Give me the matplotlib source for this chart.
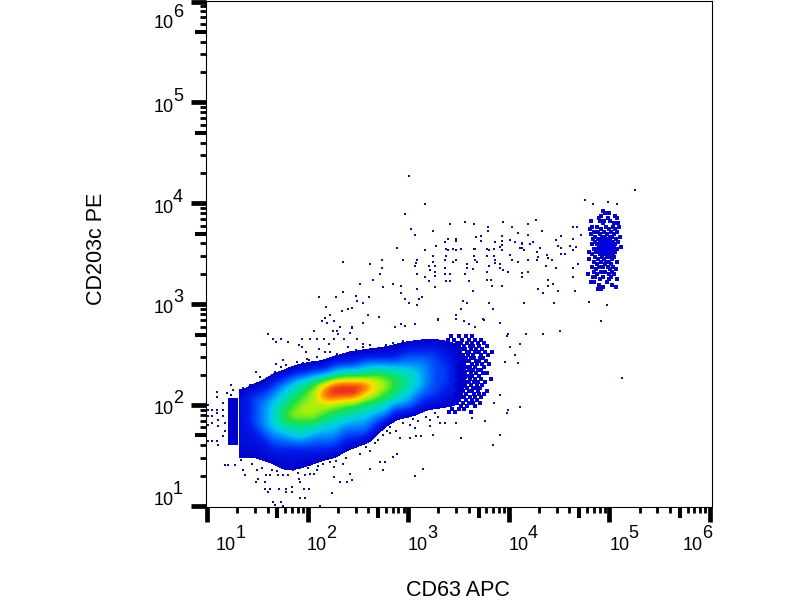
import numpy as np
import matplotlib
matplotlib.use('Agg')
import matplotlib.pyplot as plt
from matplotlib.colors import LinearSegmentedColormap, Normalize

plt.rcParams['font.family'] = ['Liberation Sans', 'DejaVu Sans']

X_LABEL = 'CD63 APC'
Y_LABEL = 'CD203c PE'
DECADES = [1, 2, 3, 4, 5, 6]

# all values below are log10 of the fluorescence
# density level per 0.1 decade cell of the main population (below 0.5 = no events)
DENSITY_X = [1.37 + 0.1 * i for i in range(24)]
DENSITY_Y = [1.3 + 0.1 * i for i in range(15)]
DENSITY = [
    [0, 0, 0, 0, 0, 0, 0, 0, 0, 0, 0, 0, 0, 0, 0, 0, 0, 0, 0, 0, 0, 0, 0, 0],  # 1.3
    [0, 0, .1, .4, .9, .9, .6, .4, 0, 0, 0, 0, 0, 0, 0, 0, 0, 0, 0, 0, 0, 0, 0, 0],  # 1.4
    [.7, .6, 1, 1, 1, 1, 1, 1, .9, .6, .1, 0, 0, 0, 0, 0, 0, 0, 0, 0, 0, 0, 0, 0],  # 1.5
    [1, 1, 1, 2, 2, 2, 2, 2, 2, 2, 1, .6, .1, 0, 0, 0, 0, 0, 0, 0, 0, 0, 0, 0],  # 1.6
    [1, 1, 2, 3, 3, 4, 4, 3, 3, 3, 2, 2, 2, .3, 0, 0, 0, 0, 0, 0, 0, 0, 0, 0],  # 1.7
    [1, 2, 3, 4, 5, 5, 5, 5, 4, 4, 3, 3, 3, 2, .3, 0, 0, 0, 0, 0, 0, 0, 0, 0],  # 1.8
    [1, 2, 3, 4, 6, 7, 7, 7, 6, 5, 5, 4, 4, 3, 3, .8, .6, .3, 0, 0, 0, 0, 0, 0],  # 1.9
    [1, 2, 3, 4, 5, 6, 7, 7, 7, 7, 6, 6, 5, 5, 4, 3, 3, 2, 1, .8, .65, .65, 0, 0],  # 2.0
    [1, 2, 2, 3, 4, 5, 6, 7, 10, 10, 10, 10, 8, 7, 6, 5, 4, 3, 2, 2, 1, 1, .2, 0],  # 2.1
    [0, .5, .9, 2, 3, 4, 5, 6, 8, 10, 10, 10, 10, 8, 7, 6, 5, 4, 3, 2, 2, 1, .5, 0],  # 2.2
    [0, 0, 0, .5, .8, 2, 2, 3, 3, 4, 5, 5, 5, 6, 6, 5, 5, 4, 3, 2, 2, 1, .6, 0],  # 2.3
    [0, 0, 0, 0, 0, .15, .5, .65, .8, 2, 2, 2, 3, 3, 3, 3, 3, 3, 3, 2, 2, 1, .5, 0],  # 2.4
    [0, 0, 0, 0, 0, 0, 0, 0, 0, .05, .5, .7, 1, 1, 1, 1, 2, 2, 2, 2, 1, 1, .3, 0],  # 2.5
    [0, 0, 0, 0, 0, 0, 0, 0, 0, 0, 0, 0, 0, .15, .35, .5, .6, .8, 1, 1, .8, .6, 0, 0],  # 2.6
    [0, 0, 0, 0, 0, 0, 0, 0, 0, 0, 0, 0, 0, 0, 0, 0, 0, 0, 0, 0, 0, 0, 0, 0],  # 2.7
]

# the separate channel left of the gap: x from, x to, y from, y to
LEFT_CHANNEL = (1.21, 1.31, 1.60, 2.07)

# mottled right end of the main population, one row per y value
RIGHT_LOBE_ROWS = [
    (2.68, [3.43, 3.50, 3.57, 3.63]),
    (2.65, [3.40, 3.46, 3.53, 3.60, 3.66, 3.72]),
    (2.62, [3.49, 3.52, 3.58, 3.63, 3.69, 3.75]),
    (2.59, [3.50, 3.55, 3.61, 3.64, 3.70, 3.78]),
    (2.56, [3.49, 3.53, 3.56, 3.62, 3.67, 3.73]),
    (2.53, [3.51, 3.58, 3.60, 3.66, 3.70, 3.76, 3.83]),
    (2.50, [3.50, 3.54, 3.59, 3.64, 3.72, 3.79]),
    (2.47, [3.49, 3.52, 3.57, 3.62, 3.65, 3.71, 3.74]),
    (2.44, [3.53, 3.56, 3.60, 3.67, 3.70, 3.77]),
    (2.41, [3.50, 3.55, 3.63, 3.68, 3.73, 3.80]),
    (2.38, [3.49, 3.52, 3.58, 3.61, 3.66, 3.75]),
    (2.35, [3.51, 3.54, 3.60, 3.64, 3.69, 3.72]),
    (2.32, [3.50, 3.56, 3.62, 3.67, 3.74, 3.78]),
    (2.29, [3.49, 3.53, 3.59, 3.63, 3.70]),
    (2.26, [3.52, 3.55, 3.61, 3.66, 3.72, 3.82]),
    (2.23, [3.50, 3.57, 3.60, 3.65, 3.69, 3.76]),
    (2.20, [3.49, 3.53, 3.56, 3.62, 3.68, 3.73]),
    (2.17, [3.51, 3.58, 3.64, 3.67, 3.71]),
    (2.14, [3.50, 3.54, 3.60, 3.63, 3.69, 3.78]),
    (2.11, [3.49, 3.52, 3.57, 3.65, 3.70, 3.75]),
    (2.08, [3.53, 3.55, 3.61, 3.66, 3.72]),
    (2.05, [3.50, 3.57, 3.63, 3.68]),
    (2.02, [3.49, 3.54, 3.60, 3.64, 3.71]),
    (1.99, [3.52, 3.58, 3.66]),
    (1.96, [3.44, 3.50, 3.55]),
    (1.93, [3.41, 3.47, 3.62]),
]

# single events between the main population and the upper right cluster
SPARSE_EVENTS = [
    (3.01, 4.27), (5.25, 4.13), (3.17, 3.99), (2.97, 3.89), (4.76, 4.03), (4.84, 3.99), (4.99, 4.01), (5.08, 3.99),
    (3.03, 3.75), (3.07, 3.69), (3.25, 3.73), (3.42, 3.79), (3.56, 3.81), (3.65, 3.79), (3.79, 3.77), (3.79, 3.73),
    (3.94, 3.81), (4.03, 3.77), (4.19, 3.79), (4.27, 3.83), (4.09, 3.71), (4.19, 3.69), (4.33, 3.73), (2.89, 3.56),
    (2.35, 3.42), (2.62, 3.40), (2.74, 3.44), (2.74, 3.36), (2.72, 3.30), (2.65, 3.24), (2.52, 3.20), (2.75, 3.17),
    (2.85, 3.20), (2.93, 3.18), (2.95, 3.44), (3.09, 3.44), (3.08, 3.41), (3.07, 3.38), (3.09, 3.30), (3.17, 3.54),
    (3.17, 3.27), (3.21, 3.23), (3.27, 3.17), (3.09, 3.15), (2.93, 3.11), (2.97, 3.05), (3.01, 3.01), (3.09, 2.99),
    (3.11, 3.05), (3.14, 3.07), (2.35, 3.12), (2.28, 3.07), (2.11, 3.07), (2.48, 3.08), (2.49, 3.03), (2.55, 3.01),
    (2.61, 3.07), (2.18, 2.97), (2.44, 2.96), (2.40, 2.95), (2.34, 2.93), (2.22, 2.89), (2.17, 2.86), (2.14, 2.83),
    (2.19, 2.81), (2.60, 2.89), (2.71, 2.87), (2.55, 2.81), (2.32, 2.77), (2.25, 2.73), (2.44, 2.77), (2.42, 2.71),
    (3.28, 3.58), (3.37, 3.62), (3.40, 3.65), (3.48, 3.65), (3.48, 3.63), (3.38, 3.55), (3.40, 3.54), (3.45, 3.55),
    (3.48, 3.54), (3.52, 3.55), (3.25, 3.48), (3.38, 3.48), (3.37, 3.44), (3.45, 3.42), (3.48, 3.44), (3.25, 3.42),
    (3.27, 3.38), (3.21, 3.38), (3.22, 3.34), (3.27, 3.32), (3.27, 3.28), (3.37, 3.36), (3.42, 3.30), (3.37, 3.30),
    (3.38, 3.23), (3.42, 3.23), (3.56, 3.30), (3.58, 3.36), (3.58, 3.40), (3.64, 3.35), (3.65, 3.55), (3.66, 3.55),
    (3.67, 3.67), (3.72, 3.68), (3.72, 3.63), (3.65, 3.48), (3.66, 3.44), (3.68, 3.42), (3.60, 3.23), (3.64, 3.13),
    (3.78, 3.55), (3.80, 3.54), (3.86, 3.62), (3.85, 3.55), (3.91, 3.57), (3.93, 3.68), (3.93, 3.63), (3.93, 3.59),
    (3.93, 3.54), (4.01, 3.64), (4.06, 3.62), (4.13, 3.61), (3.78, 3.48), (3.86, 3.44), (3.86, 3.41), (3.80, 3.38),
    (3.78, 3.32), (3.91, 3.40), (3.91, 3.36), (3.94, 3.34), (3.99, 3.32), (3.85, 3.48), (4.01, 3.49), (4.03, 3.44),
    (4.09, 3.42), (4.19, 3.44), (4.28, 3.44), (4.29, 3.47), (4.13, 3.56), (4.15, 3.54), (4.11, 3.56), (4.21, 3.60),
    (4.24, 3.62), (4.13, 3.60), (4.28, 3.52), (4.31, 3.56), (4.13, 3.31), (4.13, 3.27), (4.19, 3.32), (3.78, 3.24),
    (3.82, 3.24), (3.83, 3.18), (3.93, 3.18), (4.29, 3.15), (4.34, 3.11), (4.39, 3.18), (4.39, 3.24), (4.44, 3.20),
    (4.49, 3.13), (4.38, 3.49), (4.39, 3.46), (4.43, 3.44), (4.37, 3.38), (4.47, 3.36), (4.47, 3.64), (4.52, 3.68),
    (4.49, 3.58), (4.52, 3.56), (4.52, 3.50), (4.56, 3.50), (4.61, 3.58), (4.64, 3.54), (4.67, 3.57), (4.64, 3.65),
    (4.72, 3.69), (4.64, 3.77), (4.68, 3.77), (4.64, 3.36), (4.69, 3.40), (4.64, 3.27), (4.66, 3.13), (4.80, 3.02),
    (4.98, 2.99), (4.92, 2.83), (4.15, 3.01), (4.45, 3.01), (3.80, 3.01), (3.84, 2.95), (3.91, 2.81), (3.54, 3.03),
    (3.58, 3.01), (3.52, 2.95), (3.48, 2.89), (3.48, 2.85), (3.55, 2.83), (3.60, 2.80), (3.66, 2.77), (3.74, 2.85),
    (3.30, 2.85), (3.99, 2.70), (4.17, 2.70), (4.34, 2.70), (4.51, 2.73), (2.87, 2.77), (2.93, 2.80), (2.97, 2.78),
    (3.07, 2.80), (5.13, 2.27),
]

# speckle round the edge of the main population
EDGE_EVENTS = [
    (1.61, 2.70), (1.66, 2.66), (1.69, 2.63), (1.74, 2.66), (1.81, 2.63), (1.94, 2.66), (1.91, 2.60), (1.94, 2.58),
    (1.98, 2.53), (2.02, 2.66), (2.09, 2.66), (2.16, 2.66), (2.06, 2.73), (2.26, 2.83), (2.29, 2.73), (2.26, 2.66),
    (2.30, 2.70), (2.44, 2.76), (2.36, 2.66), (2.40, 2.58), (2.49, 2.66), (2.55, 2.61), (2.21, 2.61), (2.11, 2.56),
    (2.22, 2.53), (2.29, 2.51), (2.37, 2.51), (2.17, 2.53), (1.99, 2.46), (2.01, 2.45), (2.09, 2.48), (1.69, 2.41),
    (1.76, 2.45), (1.74, 2.38), (1.79, 2.40), (1.89, 2.43), (1.68, 2.33), (1.49, 2.33), (1.53, 2.28), (1.54, 2.23),
    (1.43, 2.20), (1.36, 2.17), (1.24, 2.20), (1.26, 2.15), (1.20, 2.12), (1.10, 2.13), (1.24, 2.10), (1.01, 2.00),
    (1.01, 1.95), (1.01, 1.89), (1.01, 1.80), (1.05, 1.95), (1.05, 1.89), (1.05, 1.82), (1.10, 2.08), (1.10, 1.95),
    (1.10, 1.92), (1.11, 1.85), (1.11, 1.79), (1.16, 2.02), (1.16, 1.95), (1.16, 1.89), (1.18, 1.82), (1.18, 1.74),
    (1.16, 1.69), (1.10, 1.64), (1.11, 1.60), (1.01, 1.64), (1.05, 1.64), (1.18, 1.41), (1.21, 1.41), (1.28, 1.41),
    (1.34, 1.46), (1.36, 1.36), (1.38, 1.31), (1.51, 1.27), (1.49, 1.24), (1.59, 1.31), (1.63, 1.31), (1.58, 1.24),
    (1.71, 1.31), (1.76, 1.31), (1.81, 1.31), (1.91, 1.27), (1.92, 1.24), (1.97, 1.31), (2.02, 1.32), (2.06, 1.32),
    (1.58, 1.17), (1.61, 1.14), (1.63, 1.17), (1.72, 1.17), (1.79, 1.17), (1.84, 1.19), (1.79, 1.14), (1.84, 1.14),
    (1.96, 1.17), (2.01, 1.17), (1.92, 1.08), (1.97, 1.08), (2.24, 1.13), (1.66, 1.04), (1.74, 1.04), (1.68, 1.01),
    (1.76, 1.00), (2.12, 1.00), (2.16, 1.49), (2.22, 1.44), (2.09, 1.36), (2.26, 1.39), (2.42, 1.32), (2.44, 1.26),
    (2.32, 1.24), (2.26, 1.29), (2.39, 1.24), (2.62, 1.37), (2.72, 1.44), (2.75, 1.36), (2.77, 1.44), (2.89, 1.52),
    (2.85, 1.49), (3.15, 1.37), (3.07, 1.30), (2.67, 1.62), (2.79, 1.74), (2.82, 1.72), (2.92, 1.67), (3.02, 1.67),
    (3.08, 1.69), (3.13, 1.69), (3.07, 1.77), (3.22, 1.79), (3.25, 1.70), (3.37, 1.82), (3.48, 1.82), (3.52, 1.67),
    (3.63, 1.87), (3.76, 1.84), (3.91, 1.70), (3.84, 1.60), (3.98, 1.92), (3.99, 1.95), (4.11, 1.98), (3.85, 2.02),
    (3.91, 2.10), (3.96, 2.43), (4.09, 2.42), (4.06, 2.50), (4.11, 2.61), (4.17, 2.70), (4.01, 2.58), (3.98, 2.68),
    (3.91, 2.81), (3.75, 2.84), (3.55, 2.83), (3.48, 2.89), (3.30, 2.84), (3.32, 1.82), (3.27, 1.92),
    (2.55, 2.58), (2.62, 2.60), (2.70, 2.57), (2.78, 2.60), (2.85, 2.62), (2.90, 2.58), (2.95, 2.64), (2.60, 2.55),
    (2.48, 2.55), (2.42, 2.53), (2.52, 1.52), (2.58, 1.58), (2.62, 1.55), (2.70, 1.65), (2.75, 1.70), (2.82, 1.78),
    (2.88, 1.74), (2.95, 1.82), (3.02, 1.80), (3.05, 1.86), (3.10, 1.84), (3.18, 1.88), (3.22, 1.85), (3.30, 1.88),
    (1.45, 1.42), (1.50, 1.36), (1.55, 1.38), (1.65, 1.36), (1.70, 1.35), (1.85, 1.36), (1.90, 1.33), (2.00, 1.38),
    (2.10, 1.40), (2.15, 1.42), (2.28, 1.45), (2.35, 1.42), (2.38, 1.48), (1.40, 1.50), (1.42, 1.55), (1.46, 2.15),
    (1.50, 2.18), (1.58, 2.22), (1.65, 2.28), (1.72, 2.33), (1.80, 2.36), (1.85, 2.38), (1.95, 2.42),
]

# upper right cluster, one row per y value
CLUSTER_ROWS = [
    (3.92, [4.94]),
    (3.90, [4.96, 5.00]),
    (3.87, [4.92, 5.06]),
    (3.85, [4.90, 4.99, 5.08]),
    (3.82, [4.82, 4.91, 4.95, 5.01]),
    (3.80, [4.94, 5.05, 5.09]),
    (3.77, [4.83, 4.88, 4.97, 5.04, 5.10]),
    (3.75, [4.81, 4.92, 5.00, 5.06]),
    (3.72, [4.85, 4.89, 4.95, 5.02, 5.08]),
    (3.70, [4.82, 4.91, 4.98, 5.05]),
    (3.67, [4.86, 4.93, 4.96, 5.01, 5.03, 5.11]),
    (3.65, [4.84, 4.89, 4.92, 4.99, 5.07]),
    (3.62, [4.86, 4.91, 4.93, 4.95, 4.98, 5.00, 5.04, 5.09]),
    (3.60, [4.83, 4.88, 4.92, 4.94, 4.97, 5.02, 5.06]),
    (3.57, [4.90, 4.92, 4.94, 4.96, 4.98, 5.00, 5.03, 5.05, 5.12]),
    (3.55, [4.85, 4.88, 4.93, 4.95, 4.97, 5.01, 5.04, 5.08]),
    (3.52, [4.80, 4.87, 4.90, 4.92, 4.96, 4.99, 5.02, 5.06]),
    (3.50, [4.83, 4.91, 4.94, 4.97, 5.00, 5.04]),
    (3.47, [4.86, 4.93, 4.98, 5.01, 5.05]),
    (3.45, [4.80, 4.89, 4.95, 5.03]),
    (3.42, [4.85, 4.92, 4.97, 5.00, 5.08]),
    (3.40, [4.88, 4.96, 5.02]),
    (3.37, [4.83, 4.90, 4.94, 4.99, 5.04]),
    (3.35, [4.87, 5.01, 5.07]),
    (3.32, [4.85, 4.92, 4.96, 5.03]),
    (3.30, [4.79, 4.88, 5.00, 5.05]),
    (3.27, [4.84, 4.86, 4.94, 5.02]),
    (3.25, [4.91, 5.00, 5.08]),
    (3.22, [4.82, 4.85, 4.98]),
    (3.19, [4.90, 5.03]),
    (3.17, [4.94, 5.07]),
    (3.15, [4.89, 4.92]),
]

# solid middle of the cluster
CLUSTER_CORE_ROWS = [
    (3.63, [4.94, 4.97, 5.01]),
    (3.60, [4.90, 4.95, 4.99, 5.03]),
    (3.58, [4.91, 4.95, 4.97, 5.01, 5.04]),
    (3.55, [4.90, 4.92, 4.96, 4.98, 5.03]),
    (3.53, [4.94, 4.97, 5.00]),
]

LEVEL_COLORS = ['#0000c8', '#0020f0', '#0070ff', '#00c8f0', '#00e0a0', '#20e040', '#a0f010', '#ffe000', '#ff8000', '#e82020']


def px_text(fig, x, y, s, **kw):
    return fig.text(x / 800, 1 - y / 600, s, **kw)


def decade_ticks():
    major = [float(d) for d in DECADES]
    minor, medium = [], []
    for d in DECADES[:-1]:
        for m in range(2, 10):
            minor.append(d + np.log10(m))
            if m == 5:
                medium.append(d + np.log10(m))
    return major, minor, medium


def style_axis(axis, major, minor, medium):
    axis.set_ticks(major)
    axis.set_ticks(minor, minor=True)
    axis.set_ticklabels([])
    axis.set_ticklabels([], minor=True)
    for t in axis.get_major_ticks():
        t.tick1line.set_markersize(10.8)
        t.tick1line.set_markeredgewidth(3.4)
    for t, v in zip(axis.get_minor_ticks(), minor):
        big = v in medium
        t.tick1line.set_markersize(8 if big else 4.3)
        t.tick1line.set_markeredgewidth(2.9 if big else 2.0)


def plot_rows(ax, rows, **kw):
    for y, xs in rows:
        ax.plot(xs, [y] * len(xs), 's', mew=0, **kw)


def main():
    fig = plt.figure(figsize=(8, 6), dpi=100)
    ax = fig.add_axes([205.5 / 800, 1 - 506.5 / 600, (712 - 205.5) / 800, (506.5 - 1) / 600])

    cmap = LinearSegmentedColormap.from_list('flow', LEVEL_COLORS, N=256)
    cmap.set_under('white')
    ax.imshow(np.array(DENSITY, dtype=float), origin='lower', aspect='auto', cmap=cmap,
              norm=Normalize(0.5, 10), interpolation='bicubic', interpolation_stage='data',
              extent=(DENSITY_X[0] - 0.05, DENSITY_X[-1] + 0.05, DENSITY_Y[0] - 0.05, DENSITY_Y[-1] + 0.05))

    x0, x1, y0, y1 = LEFT_CHANNEL
    ax.fill_between([x0, x1], y0, y1, color=LEVEL_COLORS[0], lw=0)

    sparse = SPARSE_EVENTS + EDGE_EVENTS
    ax.plot([p[0] for p in sparse], [p[1] for p in sparse], 's', ms=2.0, mew=0, color='#10108c')
    plot_rows(ax, RIGHT_LOBE_ROWS, ms=2.6, color='#0000c8')
    plot_rows(ax, CLUSTER_ROWS, ms=2.4, color='#0606c0')
    plot_rows(ax, CLUSTER_CORE_ROWS, ms=3.0, color='#0000e0')

    ax.set_xlim(1 - 1.5 / 100.6, 6 + 2 / 100.6)
    ax.set_ylim(1 - 0.5 / 100.8, 6 + 0.5 / 100.8)

    major, minor, medium = decade_ticks()
    style_axis(ax.xaxis, major, minor, medium)
    style_axis(ax.yaxis, major, minor, medium)

    # the log labels sit off their ticks in the original
    x_labels = [(216, 236), (307, 326), (408, 427), (509, 528), (610, 628), (683, 702)]
    y_baselines = [505, 414, 313, 213, 112, 28]
    for d, (bx, ex) in zip(DECADES, x_labels):
        px_text(fig, bx, 550, '10', fontsize=13, va='baseline')
        px_text(fig, ex, 538, str(d), fontsize=13, va='baseline')
    for d, by in zip(DECADES, y_baselines):
        px_text(fig, 154, by, '10', fontsize=13, va='baseline')
        px_text(fig, 173, by - 11, str(d), fontsize=13, va='baseline')

    px_text(fig, 458, 595.5, X_LABEL, fontsize=15.5, ha='center', va='baseline')
    px_text(fig, 96, 249, Y_LABEL, fontsize=15.5, ha='center', va='center', rotation=90)

    fig.savefig('out.png', dpi=100)
    plt.close(fig)


if __name__ == '__main__':
    main()
